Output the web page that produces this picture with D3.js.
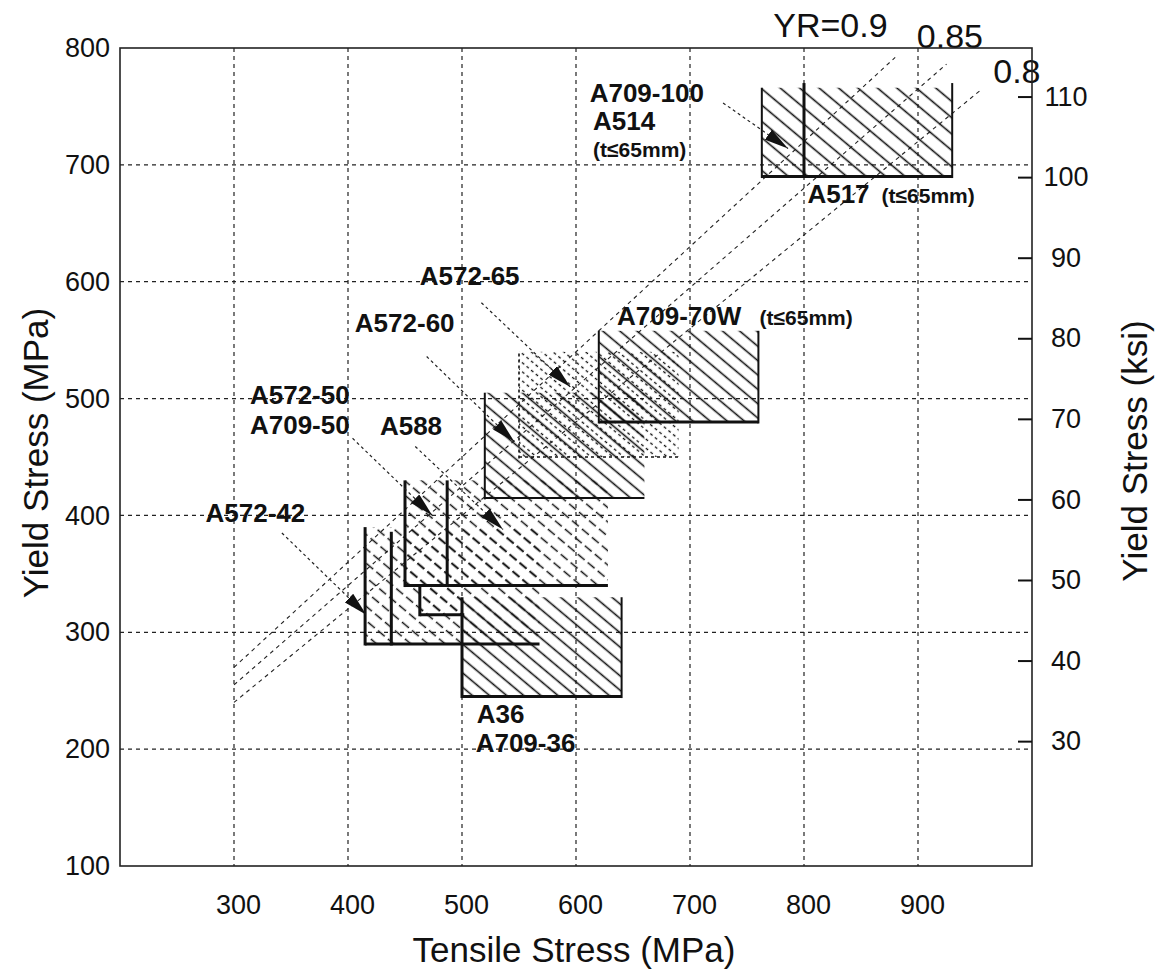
<!DOCTYPE html>
<html>
<head>
<meta charset="utf-8">
<title>Yield vs Tensile Stress</title>
<script src="https://cdn.jsdelivr.net/npm/d3@7/dist/d3.min.js"></script>
<style>
  body { margin: 0; background: #fff; }
  svg { font-family: "Liberation Sans", Arial, Helvetica, sans-serif; }
  .tick text { font-size: 27px; fill: #111; }
  .axisTitle { font-size: 35px; fill: #111; }
  .yrLabel { font-size: 34px; fill: #111; }
  .grade { font-size: 26px; font-weight: bold; fill: #111; }
  .note { font-size: 21px; font-weight: bold; fill: #111; }
</style>
</head>
<body>
<svg id="chart" width="1166" height="971"></svg>
<script>
// tick values
var xTicks = [300, 400, 500, 600, 700, 800, 900];
var yTicks = [100, 200, 300, 400, 500, 600, 700, 800];
var ksiTicks = [30, 40, 50, 60, 70, 80, 90, 100, 110];

// yield ratio lines (tensile range in MPa)
var yrRatios = [0.9, 0.85, 0.8];
var yrStart = [300, 300, 300];
var yrEnd = [880, 925, 955];
var yrText = ["YR=0.9", "0.85", "0.8"];

// steel grade boxes, MPa
var boxNames    = ["A572-65", "A36", "A572-42", "A572-42b", "A572-50", "A588", "A588b", "A572-60", "A709-70W", "A514", "A517"];
var tensileLow  = [550, 500, 415, 438, 450, 487, 463, 520, 620, 763, 800];
var tensileHigh = [690, 640, 568, 568, 628, 628, 502, 660, 760, 930, 930];
var yieldLow    = [450, 245, 290, 290, 340, 340, 315, 415, 480, 690, 690];
var yieldHigh   = [540, 330, 390, 386, 430, 430, 340, 505, 558, 766, 770];

// labels
var labelText = ["A572-65", "A572-60", "A572-50", "A709-50", "A588", "A572-42",
                 "A709-100", "A514", "(t≤65mm)", "A517", "(t≤65mm)", "A709-70W", "(t≤65mm)", "A36", "A709-36"];

// how each box is drawn
var boxStyle = {
  "A572-65":  {hatch: "dot",   left: "dot", bottom: "dot"},
  "A36":      {hatch: "solid", left: 3, bottom: 3, right: 2},
  "A572-42":  {hatch: "dash",  left: 3, bottom: 3},
  "A572-42b": {hatch: null,    left: 3},
  "A572-50":  {hatch: "dash",  left: 3, bottom: 3},
  "A588":     {hatch: null,    left: 3},
  "A588b":    {hatch: "dash",  left: 3, bottom: 3},
  "A572-60":  {hatch: "solid", left: 2, bottom: 2},
  "A709-70W": {hatch: "solid", left: 2, bottom: 3, right: 2},
  "A514":     {hatch: "wide",  left: 2, bottom: 3},
  "A517":     {hatch: null,    left: 3, right: 2}
};

// label anchors (MPa) and leader lines
var labelPos = [[463, 597], [406, 557], [314, 495.5], [314, 470], [428, 469], [275, 394.5],
                [612, 754], [615, 730], [615, 707], [803, 667.5], [868, 667.5], [636, 563], [761, 563], [513, 222.5], [512, 197.5]];
var labelCls = ["grade", "grade", "grade", "grade", "grade", "grade",
                "grade", "grade", "note", "grade", "note", "grade", "note", "grade", "grade"];
var leaders = [
  [[517, 582], [595, 510]],
  [[469, 536], [546, 463]],
  [[404, 466], [474, 400]],
  [[459, 459], [536, 388]],
  [[342, 385], [416, 315]],
  [[729, 753], [786, 714]]
];
var yrPos = [[773, 809.5], [899, 800], [966, 770]];

var svg = d3.select("#chart"),
    margin = {top: 48, right: 134, bottom: 105, left: 120},
    width = +svg.attr("width") - margin.left - margin.right,
    height = +svg.attr("height") - margin.top - margin.bottom;

var x = d3.scaleLinear().domain([200, 1000]).range([0, width]);
var y = d3.scaleLinear().domain([100, 800]).range([height, 0]);
var ksi = d3.scaleLinear().domain([100 / 6.895, 800 / 6.895]).range([height, 0]);

var defs = svg.append("defs");
function hatchPattern(id, period, dash, sw, gap) {
  var p = defs.append("pattern")
    .attr("id", id)
    .attr("patternUnits", "userSpaceOnUse")
    .attr("width", period).attr("height", gap)
    .attr("patternTransform", "rotate(40)");
  p.append("line")
    .attr("x1", 0).attr("x2", period)
    .attr("y1", gap / 2).attr("y2", gap / 2)
    .attr("stroke", "#111").attr("stroke-width", sw)
    .attr("stroke-dasharray", dash);
}
hatchPattern("hatch-solid", 10, null, 1.6, 11);
hatchPattern("hatch-wide", 10, null, 1.6, 12.5);
hatchPattern("hatch-dash", 13, "9,4", 1.5, 11);
hatchPattern("hatch-dot", 6, "3,3", 1.3, 7);

defs.append("clipPath").attr("id", "clip")
  .append("rect").attr("width", width).attr("height", height);

defs.append("marker")
  .attr("id", "arrow")
  .attr("markerUnits", "userSpaceOnUse")
  .attr("markerWidth", 24).attr("markerHeight", 12)
  .attr("viewBox", "0 0 24 12")
  .attr("refX", 24).attr("refY", 6)
  .attr("orient", "auto")
  .append("path").attr("d", "M0,0 L24,6 L0,12 Z").attr("fill", "#111");

var g = svg.append("g").attr("transform", "translate(" + margin.left + "," + margin.top + ")");

// grid
g.append("g").selectAll("line").data(xTicks).enter().append("line")
  .attr("x1", function(d) { return x(d); }).attr("x2", function(d) { return x(d); })
  .attr("y1", 0).attr("y2", height)
  .attr("stroke", "#222").attr("stroke-width", 1.2).attr("stroke-dasharray", "4,4");
g.append("g").selectAll("line").data(yTicks.filter(function(d) { return d > 100 && d < 800; })).enter().append("line")
  .attr("x1", 0).attr("x2", width)
  .attr("y1", function(d) { return y(d); }).attr("y2", function(d) { return y(d); })
  .attr("stroke", "#222").attr("stroke-width", 1.2).attr("stroke-dasharray", "4,4");

// YR lines
var plot = g.append("g").attr("clip-path", "url(#clip)");
plot.selectAll(".yr").data(yrRatios).enter().append("line")
  .attr("class", "yr")
  .attr("x1", function(d, i) { return x(yrStart[i]); })
  .attr("y1", function(d, i) { return y(d * yrStart[i]); })
  .attr("x2", function(d, i) { return x(yrEnd[i]); })
  .attr("y2", function(d, i) { return y(d * yrEnd[i]); })
  .attr("stroke", "#222").attr("stroke-width", 1.1).attr("stroke-dasharray", "4,4");

// hatched boxes
boxNames.forEach(function(name, i) {
  var s = boxStyle[name];
  var x0 = x(tensileLow[i]), x1 = x(tensileHigh[i]),
      y0 = y(yieldLow[i]), y1 = y(yieldHigh[i]);
  if (s.hatch) {
    plot.append("rect")
      .attr("x", x0).attr("y", y1)
      .attr("width", x1 - x0).attr("height", y0 - y1)
      .attr("fill", "url(#hatch-" + s.hatch + ")");
  }
  function side(w, ax, ay, bx, by) {
    if (!w) return;
    var l = plot.append("line")
      .attr("x1", ax).attr("y1", ay).attr("x2", bx).attr("y2", by)
      .attr("stroke", "#111");
    if (w === "dot") l.attr("stroke-width", 1.6).attr("stroke-dasharray", "3,3");
    else l.attr("stroke-width", w);
  }
  side(s.left, x0, y0 + 1.5, x0, y1);
  side(s.bottom, x0, y0, x1, y0);
  side(s.right, x1, y0 + 1.5, x1, y1);
});

// leaders
g.selectAll(".leader").data(leaders).enter().append("line")
  .attr("class", "leader")
  .attr("x1", function(d) { return x(d[0][0]); }).attr("y1", function(d) { return y(d[0][1]); })
  .attr("x2", function(d) { return x(d[1][0]); }).attr("y2", function(d) { return y(d[1][1]); })
  .attr("stroke", "#222").attr("stroke-width", 1.2).attr("stroke-dasharray", "3,3")
  .attr("marker-end", "url(#arrow)");

// grade labels
g.selectAll(".lbl").data(labelText).enter().append("text")
  .attr("class", function(d, i) { return labelCls[i]; })
  .attr("x", function(d, i) { return x(labelPos[i][0]); })
  .attr("y", function(d, i) { return y(labelPos[i][1]); })
  .text(function(d) { return d; });

// YR labels
g.selectAll(".yrLabel").data(yrText).enter().append("text")
  .attr("class", "yrLabel")
  .attr("x", function(d, i) { return x(yrPos[i][0]); })
  .attr("y", function(d, i) { return y(yrPos[i][1]); })
  .text(function(d) { return d; });

// frame
g.append("rect").attr("width", width).attr("height", height)
  .attr("fill", "none").attr("stroke", "#222").attr("stroke-width", 1.6);

// axes
var xAxis = g.append("g").attr("transform", "translate(0," + height + ")")
  .call(d3.axisBottom(x).tickValues(xTicks).tickSize(0).tickPadding(29));
var yAxis = g.append("g")
  .call(d3.axisLeft(y).tickValues(yTicks).tickSize(0).tickPadding(10));
var rAxis = g.append("g").attr("transform", "translate(" + width + ",0)")
  .call(d3.axisRight(ksi).tickValues(ksiTicks).tickSize(-14).tickPadding(0));
[xAxis, yAxis, rAxis].forEach(function(a) { a.select(".domain").remove(); });
xAxis.selectAll("text").attr("dx", "0.15em");
rAxis.selectAll(".tick line").attr("stroke", "#111").attr("stroke-width", 2);
rAxis.selectAll("text").attr("x", 34).style("text-anchor", "middle");

// titles
g.append("text").attr("class", "axisTitle")
  .attr("x", width / 2 - 2).attr("y", height + 96)
  .attr("text-anchor", "middle").text("Tensile Stress (MPa)");
g.append("text").attr("class", "axisTitle")
  .attr("transform", "translate(" + (-72) + "," + (y(450) - 4) + ") rotate(-90)")
  .attr("text-anchor", "middle").text("Yield Stress (MPa)");
g.append("text").attr("class", "axisTitle")
  .attr("transform", "translate(" + (width + 115) + "," + (y(450) - 6) + ") rotate(-90)")
  .attr("text-anchor", "middle").text("Yield Stress (ksi)");
</script>
</body>
</html>
